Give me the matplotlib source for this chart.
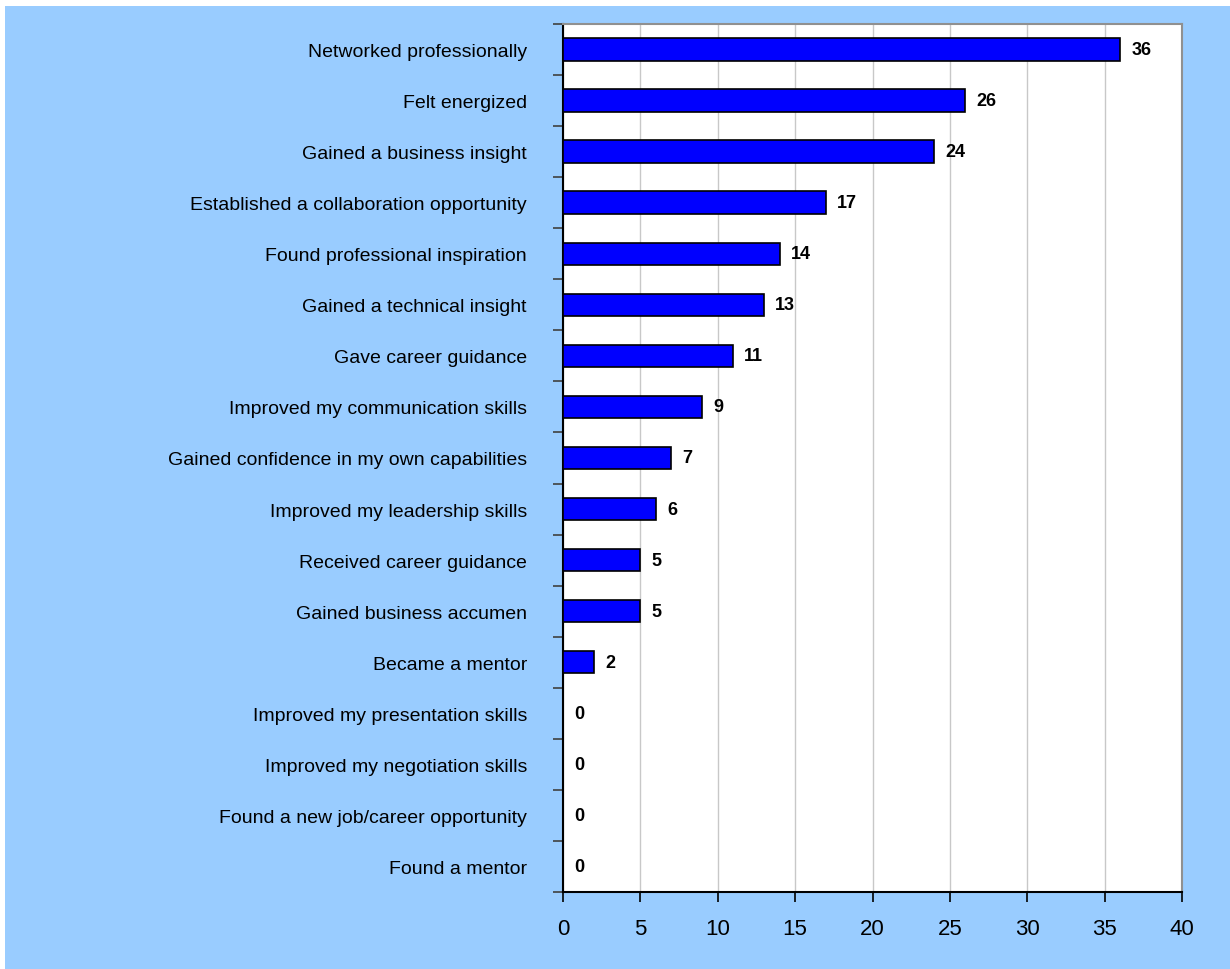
import matplotlib
matplotlib.use("Agg")
import matplotlib.pyplot as plt
from matplotlib.patches import Rectangle
import numpy as np

# Survey outcomes, top to bottom as shown
categories = [
    "Networked professionally",
    "Felt energized",
    "Gained a business insight",
    "Established a collaboration opportunity",
    "Found professional inspiration",
    "Gained a technical insight",
    "Gave career guidance",
    "Improved my communication skills",
    "Gained confidence in my own capabilities",
    "Improved my leadership skills",
    "Received career guidance",
    "Gained business accumen",
    "Became a mentor",
    "Improved my presentation skills",
    "Improved my negotiation skills",
    "Found a new job/career opportunity",
    "Found a mentor",
]
counts = [36, 26, 24, 17, 14, 13, 11, 9, 7, 6, 5, 5, 2, 0, 0, 0, 0]
x_ticks = [0, 5, 10, 15, 20, 25, 30, 35, 40]

plt.rcParams['font.family'] = ['Liberation Sans', 'DejaVu Sans']

fig = plt.figure(figsize=(12.3, 9.7), dpi=100)
fig.patch.set_facecolor("white")
# light blue chart area, leaves a thin white strip top/left
fig.patches.append(Rectangle((5 / 1230, 0), 1 - 5 / 1230, 1 - 7 / 970,
                             transform=fig.transFigure, facecolor="#99CCFF",
                             edgecolor="none", zorder=-10))

ax = fig.add_axes([563 / 1230, 1 - 893 / 970, (1182 - 563) / 1230, (893 - 25) / 970])
ax.set_facecolor("white")

y = np.arange(len(categories))
ax.barh(y, counts, height=0.44, color="#0000FF", edgecolor="black", linewidth=1.2, zorder=3)

for yi, v in zip(y, counts):
    ax.annotate(str(v), (v, yi), xytext=(8, 0), textcoords="offset points",
                va="center", ha="left", fontsize=13, fontweight="bold", zorder=4)

ax.set_xlim(0, 40)
ax.set_ylim(len(categories) - 0.5, -0.5)
ax.set_xticks(x_ticks)
ax.set_xticklabels([str(t) for t in x_ticks], fontsize=16)

# category labels sit between boundary ticks
ax.set_yticks(np.arange(len(categories) + 1) - 0.5)
ax.set_yticklabels([])
ax.set_yticks(y, minor=True)
ax.set_yticklabels(categories, minor=True, fontsize=14)
ax.tick_params(axis="y", which="minor", length=0, pad=26)
ax.tick_params(axis="y", which="major", length=7, width=1.2, color="#404040")
ax.tick_params(axis="x", length=7, width=1.2, pad=12)

ax.grid(axis="x", color="#C8C8C8", linewidth=1, zorder=0)
ax.spines["left"].set_linewidth(1.5)
ax.spines["bottom"].set_linewidth(1.5)
ax.spines["top"].set_color("#909090")
ax.spines["right"].set_color("#909090")
ax.spines["top"].set_linewidth(1.5)
ax.spines["right"].set_linewidth(1.5)

fig.savefig("out.png", dpi=100, facecolor=fig.get_facecolor())
